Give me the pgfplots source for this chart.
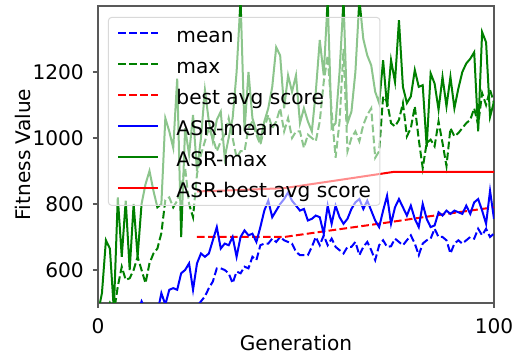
\documentclass[border=0pt]{standalone}
\usepackage{fontspec}
\setmainfont{DejaVu Sans}
\usepackage{pgfplots}
\pgfplotsset{compat=1.18}
\definecolor{mblue}{rgb}{0,0,1}
\definecolor{mgreen}{rgb}{0,0.502,0}
\definecolor{mred}{rgb}{1,0,0}
\definecolor{spine}{gray}{0.35}
\newcommand{\bigfont}{\fontsize{20.2}{24}\selectfont}
\begin{document}
\begin{tikzpicture}
\begin{axis}[
  scale only axis, width=396bp, height=297bp,
  xmin=0, xmax=100, ymin=500, ymax=1400,
  xtick={0,100}, ytick={600,800,1000,1200},
  tick pos=left, tick align=outside, major tick length=5bp,
  axis line style={spine, line width=1.1bp},
  tick style={spine, line width=1.1bp},
  /pgf/number format/assume math mode=true,
  /pgf/number format/1000 sep={},
  ticklabel style={font=\bigfont},
  xticklabel style={anchor=north, inner sep=0pt, yshift=-10bp},
  yticklabel style={anchor=east, inner sep=0pt, xshift=-9bp},
  xlabel={Generation}, ylabel={Fitness Value},
  label style={font=\bigfont},
  xlabel style={at={(axis description cs:0.5,-0.1616)}, anchor=base, inner sep=0pt},
  ylabel style={at={(axis description cs:-0.1717,0.5)}, anchor=base, inner sep=0pt},
  legend cell align=left,
  legend image code/.code={\draw[#1] (0bp,1bp) -- (40bp,1bp);},
  legend style={at={(axis description cs:0,1)}, anchor=north west,
    xshift=10bp, yshift=-11bp, fill=white, fill opacity=0.55, draw opacity=1,
    text opacity=1, draw=black!15, line width=1bp, rounded corners=3bp,
    inner xsep=9bp, inner ysep=7.5bp, row sep=13.2bp, column sep=17bp,
    font=\bigfont,
    nodes={inner sep=0pt, text height=17.8bp, text depth=0bp}},
]
\coordinate (bl) at (rel axis cs:0,0);
\coordinate (tr) at (rel axis cs:1,1);
% mean
\addplot[mblue, line width=2bp, dash pattern=on 7.7bp off 3.3bp] coordinates {
(24,470) (25,490) (26,505) (27,520) (28,545) (29,565) (30,605) (31,605) (32,600) (33,590)
(34,560) (35,595) (36,590) (37,610) (38,605) (39,640) (40,630) (41,675) (42,680) (43,680)
(44,695) (45,685) (46,700) (47,690) (48,685) (49,680) (50,655) (51,645) (52,645) (53,645)
(54,670) (55,700) (56,675) (57,705) (58,675) (59,695) (60,670) (61,660) (62,650) (63,670)
(64,670) (65,685) (66,645) (67,670) (68,685) (69,660) (70,630) (71,675) (72,690) (73,670)
(74,672) (75,695) (76,685) (77,675) (78,690) (79,705) (80,680) (81,645) (82,680) (83,690)
(84,695) (85,725) (86,700) (87,700) (88,690) (89,650) (90,680) (91,690) (92,680) (93,690)
(94,700) (95,695) (96,725) (97,705) (98,725) (99,700) (100,710)
};
\addlegendentry{mean}
% max
\addplot[mgreen, line width=2bp, dash pattern=on 7.7bp off 3.3bp] coordinates {
(0,430) (1,450) (2,470) (3,500) (4,470) (5,550) (6,610) (7,570) (8,575) (9,600)
(10,640) (11,600) (12,560) (13,620) (14,650) (15,665) (16,712) (17,812) (18,820) (19,790)
(20,810) (21,850) (22,910) (23,800) (24,760) (25,890) (26,950) (27,990) (28,1030) (29,1000)
(30,960) (31,990) (32,1010) (33,1060) (34,1000) (35,940) (36,960) (37,960) (38,1030) (39,1050)
(40,1010) (41,980) (42,1030) (43,1070) (44,1030) (45,1050) (46,1090) (47,1020) (48,1060) (49,1000)
(50,1020) (51,1020) (52,970) (53,1010) (54,1000) (55,990) (56,1050) (57,1170) (58,1250) (59,1080)
(60,940) (61,1050) (62,1270) (63,960) (64,1000) (65,1020) (66,990) (67,1040) (68,1070) (69,1090)
(70,940) (71,960) (72,1126) (73,1110) (74,1045) (75,1035) (76,1055) (77,1106) (78,1005) (79,1030)
(80,1096) (81,995) (82,909) (83,985) (84,995) (85,975) (86,1050) (87,985) (88,915) (89,1030)
(90,1005) (91,1015) (92,1030) (93,1045) (94,1055) (95,1090) (96,1040) (97,1136) (98,1100) (99,1146)
(100,1106)
};
\addlegendentry{max}
% best avg score
\addplot[mred, line width=2bp, dash pattern=on 7.7bp off 3.3bp] coordinates {
(25,700) (35,700) (47,700) (60,722) (72,742) (85,765) (100,790)
};
\addlegendentry{best avg score}
% ASR-mean
\addplot[mblue, line width=2bp] coordinates {
(10,470) (11,505) (12,480) (13,470) (14,490) (15,470) (16,530) (17,495) (18,540) (19,545)
(20,540) (21,590) (22,600) (23,620) (24,540) (25,620) (26,650) (27,640) (28,650) (29,690)
(30,730) (31,665) (32,680) (33,675) (34,700) (35,640) (36,700) (37,720) (38,705) (39,710)
(40,685) (41,730) (42,780) (43,810) (44,760) (45,780) (46,800) (47,815) (48,835) (49,810)
(50,795) (51,780) (52,785) (53,750) (54,755) (55,765) (56,760) (57,710) (58,795) (59,740)
(60,795) (61,760) (62,740) (63,755) (64,785) (65,805) (66,815) (67,785) (68,810) (69,780)
(70,750) (71,730) (72,780) (73,825) (74,740) (75,790) (76,815) (77,790) (78,765) (79,795)
(80,755) (81,730) (82,800) (83,755) (84,730) (85,735) (86,775) (87,765) (88,780) (89,770)
(90,780) (91,775) (92,770) (93,795) (94,770) (95,805) (96,815) (97,780) (98,740) (99,840)
(100,755)
};
\addlegendentry{ASR-mean}
% ASR-max
\addplot[mgreen, line width=2bp] coordinates {
(0,470) (1,530) (2,690) (3,665) (4,480) (5,820) (6,640) (7,810) (8,600) (9,800)
(10,640) (11,800) (12,860) (13,900) (14,840) (15,790) (16,800) (17,1060) (18,1020) (19,970)
(20,1180) (21,700) (22,1030) (23,950) (24,1070) (25,900) (26,1000) (27,1145) (28,1050) (29,990)
(30,1055) (31,1080) (32,940) (33,1000) (34,1060) (35,1200) (36,1420) (37,1020) (38,1200) (39,1060)
(40,1020) (41,990) (42,1050) (43,1090) (44,1155) (45,1275) (46,1250) (47,1090) (48,1190) (49,1140)
(50,1190) (51,1045) (52,1090) (53,1050) (54,1020) (55,1140) (56,1297) (57,1190) (58,1420) (59,1030)
(60,1045) (61,1200) (62,1420) (63,1045) (64,1080) (65,1200) (66,1420) (67,1300) (68,1250) (69,1220)
(70,1140) (71,1106) (72,1236) (73,1094) (74,1236) (75,1170) (76,1357) (77,1155) (78,1106) (79,1126)
(80,1206) (81,1155) (82,1160) (83,973) (84,1196) (85,1165) (86,1086) (87,1185) (88,1096) (89,1185)
(90,1090) (91,1150) (92,1200) (93,1226) (94,1240) (95,1260) (96,1020) (97,1321) (98,1290) (99,1064)
(100,1110)
};
\addlegendentry{ASR-max}
% ASR-best avg score
\addplot[mred, line width=2bp] coordinates {
(25,838) (35,842) (47,848) (60,871) (74.5,897) (100,897)
};
\addlegendentry{ASR-best avg score}
\end{axis}
\pgfresetboundingbox
\path[use as bounding box] ([shift={(-98bp,-53bp)}]bl) rectangle ([shift={(20bp,6bp)}]tr);
\end{tikzpicture}
\end{document}
